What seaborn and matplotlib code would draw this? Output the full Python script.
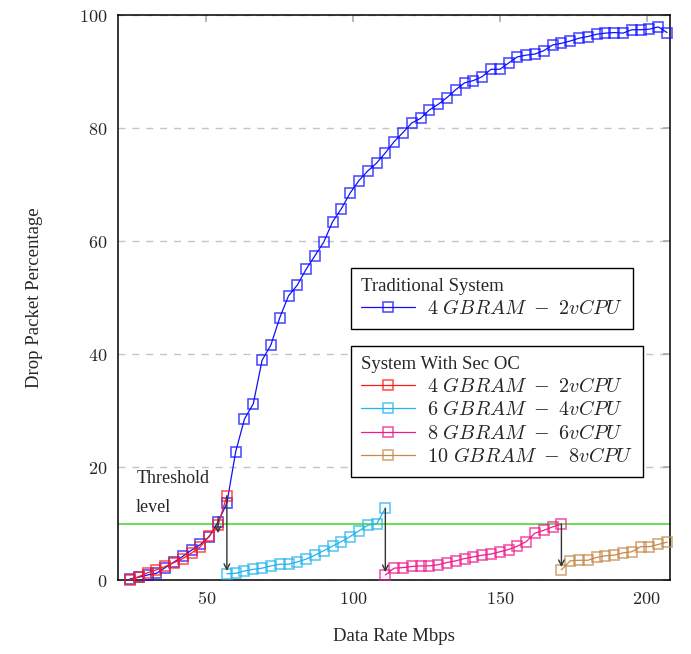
import numpy as np
import pandas as pd
import matplotlib
matplotlib.use("Agg")
import matplotlib.pyplot as plt
from matplotlib.colors import to_rgba
import seaborn as sns

# ---------------- data ----------------
rate_trad = list(range(24, 208, 3))
drop_trad = [0.2, 0.5, 0.9, 1.2, 2.2, 3.2, 4.2, 5.3, 6.3, 7.7, 10.3, 13.6,
             22.7, 28.5, 31.2, 38.9, 41.6, 46.4, 50.3, 52.2, 55.0, 57.4, 59.8,
             63.4, 65.7, 68.5, 70.7, 72.4, 73.8, 75.6, 77.6, 79.2, 80.9, 81.7,
             83.2, 84.2, 85.4, 86.8, 88.0, 88.4, 89.1, 90.4, 90.4, 91.5, 92.6,
             92.9, 93.1, 93.7, 94.7, 95.0, 95.4, 95.9, 96.2, 96.6, 96.8, 96.9,
             96.8, 97.4, 97.4, 97.5, 97.9, 96.9]

rate_4gb = list(range(24, 58, 3))
drop_4gb = [0.0, 0.6, 1.3, 1.8, 2.4, 3.1, 3.8, 4.8, 5.9, 7.8, 9.7, 14.9]

rate_6gb = list(range(57, 112, 3))
drop_6gb = [1.1, 1.2, 1.6, 1.9, 2.1, 2.5, 2.8, 2.8, 3.2, 3.7, 4.4, 5.2,
            6.0, 6.8, 7.7, 8.7, 9.7, 9.9, 12.7]

rate_8gb = list(range(111, 172, 3))
drop_8gb = [0.9, 2.1, 2.2, 2.4, 2.5, 2.5, 2.7, 3.1, 3.4, 3.8, 4.1, 4.4,
            4.6, 5.0, 5.4, 6.0, 6.8, 8.3, 8.8, 9.4, 9.9]

rate_10gb = list(range(171, 208, 3))
drop_10gb = [1.8, 3.4, 3.5, 3.5, 4.0, 4.3, 4.4, 4.8, 5.0, 5.9, 5.9, 6.3, 6.7]

threshold = 10
small_arrow = (54, 11.2, 8.3)   # x, y from, y to

labels_sec = [r"$4\ GBRAM\ -\ 2vCPU$", r"$6\ GBRAM\ -\ 4vCPU$",
              r"$8\ GBRAM\ -\ 6vCPU$", r"$10\ GBRAM\ -\ 8vCPU$"]
colors_sec = ["#FF1A1A", "#22B4EC", "#EE1C8C", "#C48A4A"]

# ---------------- style ----------------
sns.set_style("white")
plt.rcParams["font.family"] = ["Liberation Serif", "DejaVu Serif"]
plt.rcParams["mathtext.fontset"] = "cm"

fig = plt.figure(figsize=(6.91, 6.54), dpi=100)
ax = fig.add_axes([0.1712, 0.1131, 0.7984, 0.8639])


def draw(rates, drops, color, label):
    df = pd.DataFrame({"rate": rates, "drop": drops})
    sns.lineplot(data=df, x="rate", y="drop", ax=ax, sort=False,
                 color=color, lw=0.9, marker="s", markersize=7.8,
                 markerfacecolor="none", markeredgecolor=to_rgba(color, 0.72),
                 markeredgewidth=1.2, label=label,
                 clip_on=False, zorder=3)


draw(rate_trad, drop_trad, "#1010FF", r"$4\ GBRAM\ -\ 2vCPU$")
h_trad, l_trad = ax.get_legend_handles_labels()

all_rates = [rate_4gb, rate_6gb, rate_8gb, rate_10gb]
all_drops = [drop_4gb, drop_6gb, drop_8gb, drop_10gb]
for r, d, c, lab in zip(all_rates, all_drops, colors_sec, labels_sec):
    draw(r, d, c, lab)
h_all, l_all = ax.get_legend_handles_labels()
h_sec, l_sec = h_all[1:], l_all[1:]

# threshold line
ax.axhline(threshold, color="#66E055", lw=1.4, zorder=2)

# arrows from end of one setup to start of next
for i in range(3):
    x0 = all_rates[i][-1]
    ax.annotate("", xy=(x0, all_drops[i + 1][0]), xytext=(x0, all_drops[i][-1]),
                arrowprops=dict(arrowstyle="->", color="#333333", lw=1.0,
                                shrinkA=0, shrinkB=2), zorder=4)
ax.annotate("", xy=(small_arrow[0], small_arrow[2]),
            xytext=(small_arrow[0], small_arrow[1]),
            arrowprops=dict(arrowstyle="->", color="#333333", lw=0.9,
                            shrinkA=0, shrinkB=0), zorder=4)

ax.text(26.3, 18.0, "Threshold", fontsize=13, va="center", ha="left")
ax.text(26.0, 12.9, "level", fontsize=13, va="center", ha="left")

# axes
ax.set_xlim(20, 208)
ax.set_ylim(0, 100)
ax.set_xticks([50, 100, 150, 200])
ax.set_yticks([0, 20, 40, 60, 80, 100])
ax.set_xticklabels([f"${v}$" for v in [50, 100, 150, 200]], fontsize=13)
ax.set_yticklabels([f"${v}$" for v in [0, 20, 40, 60, 80, 100]], fontsize=13)
ax.tick_params(direction="in", length=5, color="#aaaaaa", width=1.2,
               top=True, right=True, pad=8)
ax.yaxis.grid(True, linestyle=(0, (5, 5)), color="#c4c4c4", lw=1.0)
ax.xaxis.grid(False)
for s in ax.spines.values():
    s.set_color("black")
    s.set_linewidth(1.1)

ax.set_xlabel("Data Rate Mbps", fontsize=13.5, labelpad=14)
ax.set_ylabel("Drop Packet Percentage", fontsize=13.5, labelpad=26)

# legends
leg_kw = dict(loc="upper left", borderaxespad=0, fontsize=14.5,
              title_fontsize=13.5, fancybox=False, edgecolor="black",
              framealpha=1, handlelength=2.7, alignment="left",
              borderpad=0.5, labelspacing=0.22, handletextpad=0.6)
leg1 = ax.legend(h_trad, l_trad, title="Traditional System",
                 bbox_to_anchor=(0.421, 0.552), **leg_kw)
leg1.get_frame().set_linewidth(1.0)
ax.add_artist(leg1)
leg2 = ax.legend(h_sec, l_sec, title="System With Sec OC",
                 bbox_to_anchor=(0.421, 0.414), **leg_kw)
leg2.get_frame().set_linewidth(1.0)

fig.savefig("out.png", dpi=100)
